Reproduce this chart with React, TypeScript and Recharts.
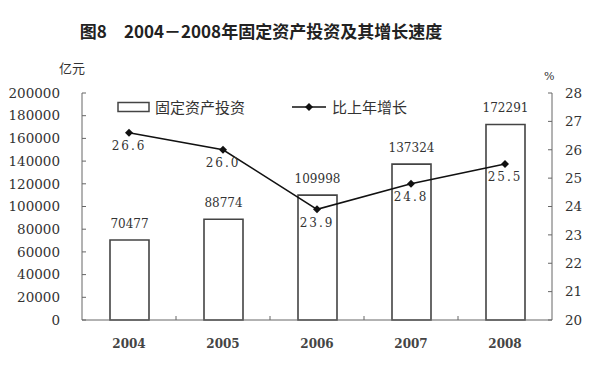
import { ComposedChart, Bar, Line, XAxis, YAxis, Legend, LabelList } from 'recharts'

const years = ['2004', '2005', '2006', '2007', '2008']
const investment = [70477, 88774, 109998, 137324, 172291]
const growth = [26.6, 26.0, 23.9, 24.8, 25.5]
const leftTicks = [0, 20000, 40000, 60000, 80000, 100000, 120000, 140000, 160000, 180000, 200000]
const rightTicks = [20, 21, 22, 23, 24, 25, 26, 27, 28]

const data = years.map((year, i) => ({ year, investment: investment[i], growth: growth[i] }))

const serif = '"DejaVu Serif", serif'
const cjk = '"Noto Sans CJK SC", sans-serif'
const axisColor = '#666'
const inkColor = '#333'

const YearTick = (props: any) => {
  const { x, y, payload, index, width, visibleTicksCount } = props
  const band = width / visibleTicksCount
  return (
    <g>
      {index > 0 && <line x1={x - band / 2} x2={x - band / 2} y1={y} y2={y - 4} stroke={axisColor} />}
      <text x={x} y={y + 28} textAnchor="middle" fontFamily={serif} fontWeight="bold" fontSize={12} fill="#444">
        {payload.value}
      </text>
    </g>
  )
}

const Diamond = (props: any) => {
  const { cx, cy } = props
  if (cx == null || cy == null) return null
  return <polygon points={`${cx},${cy - 4} ${cx + 4},${cy} ${cx},${cy + 4} ${cx - 4},${cy}`} fill="#111" />
}

const LegendContent = () => (
  <div style={{ display: 'flex', alignItems: 'center', fontFamily: cjk, fontSize: 15, color: inkColor, whiteSpace: 'nowrap' }}>
    <svg width={34} height={12}>
      <rect x={1} y={1.5} width={31} height={9} fill="#fff" stroke="#444" strokeWidth={1.5} />
    </svg>
    <span style={{ marginLeft: 4 }}>固定资产投资</span>
    <svg width={36} height={12} style={{ marginLeft: 47 }}>
      <line x1={0} x2={34} y1={6} y2={6} stroke="#111" strokeWidth={1.5} />
      <polygon points="17,2 21,6 17,10 13,6" fill="#111" />
    </svg>
    <span style={{ marginLeft: 4 }}>比上年增长</span>
  </div>
)

export default function App() {
  return (
    <div style={{ position: 'absolute', left: 0, top: 0, width: 600, height: 378, background: '#fff' }}>
      <div style={{ position: 'absolute', left: 0, width: 522, top: 18, textAlign: 'center', fontFamily: cjk, fontWeight: 'bold', fontSize: 17, color: '#222' }}>
        图8　2004－2008年固定资产投资及其增长速度
      </div>
      <div style={{ position: 'absolute', left: 59, top: 58, fontFamily: cjk, fontSize: 13, color: inkColor }}>亿元</div>
      <div style={{ position: 'absolute', left: 544, top: 70, fontFamily: serif, fontSize: 11, color: inkColor }}>%</div>
      <ComposedChart width={600} height={378} data={data} margin={{ top: 93, right: 8, bottom: 28, left: 12 }}>
        <XAxis
          dataKey="year"
          stroke={axisColor}
          tickLine={false}
          tickSize={0}
          tickMargin={0}
          height={30}
          tick={<YearTick />}
        />
        <YAxis
          yAxisId="left"
          domain={[0, 200000]}
          ticks={leftTicks}
          interval={0}
          width={70}
          stroke={axisColor}
          tickSize={-4}
          tickMargin={26}
          tick={{ fontFamily: serif, fontSize: 13.5, fill: inkColor }}
        />
        <YAxis
          yAxisId="right"
          orientation="right"
          domain={[20, 28]}
          ticks={rightTicks}
          interval={0}
          width={40}
          stroke={axisColor}
          tickSize={-4}
          tickMargin={17}
          tick={{ fontFamily: serif, fontSize: 13.5, fill: inkColor, textAnchor: 'start' }}
        />
        <Legend
          verticalAlign="middle"
          layout="horizontal"
          content={<LegendContent />}
          wrapperStyle={{ top: 96, left: 117, width: 'auto', height: 'auto' }}
        />
        <Bar yAxisId="left" dataKey="investment" barSize={39} fill="#fff" stroke="#444" strokeWidth={1.6} isAnimationActive={false}>
          <LabelList dataKey="investment" position="top" offset={12} fontFamily={serif} fontSize={12} fill={inkColor} />
        </Bar>
        <Line
          yAxisId="right"
          dataKey="growth"
          type="linear"
          stroke="#111"
          strokeWidth={1.5}
          dot={<Diamond />}
          activeDot={false}
          isAnimationActive={false}
        >
          <LabelList
            dataKey="growth"
            position="bottom"
            offset={9}
            formatter={(v: any) => Number(v).toFixed(1)}
            fontFamily={serif}
            fontSize={12}
            letterSpacing={2}
            fill={inkColor}
          />
        </Line>
      </ComposedChart>
    </div>
  )
}
